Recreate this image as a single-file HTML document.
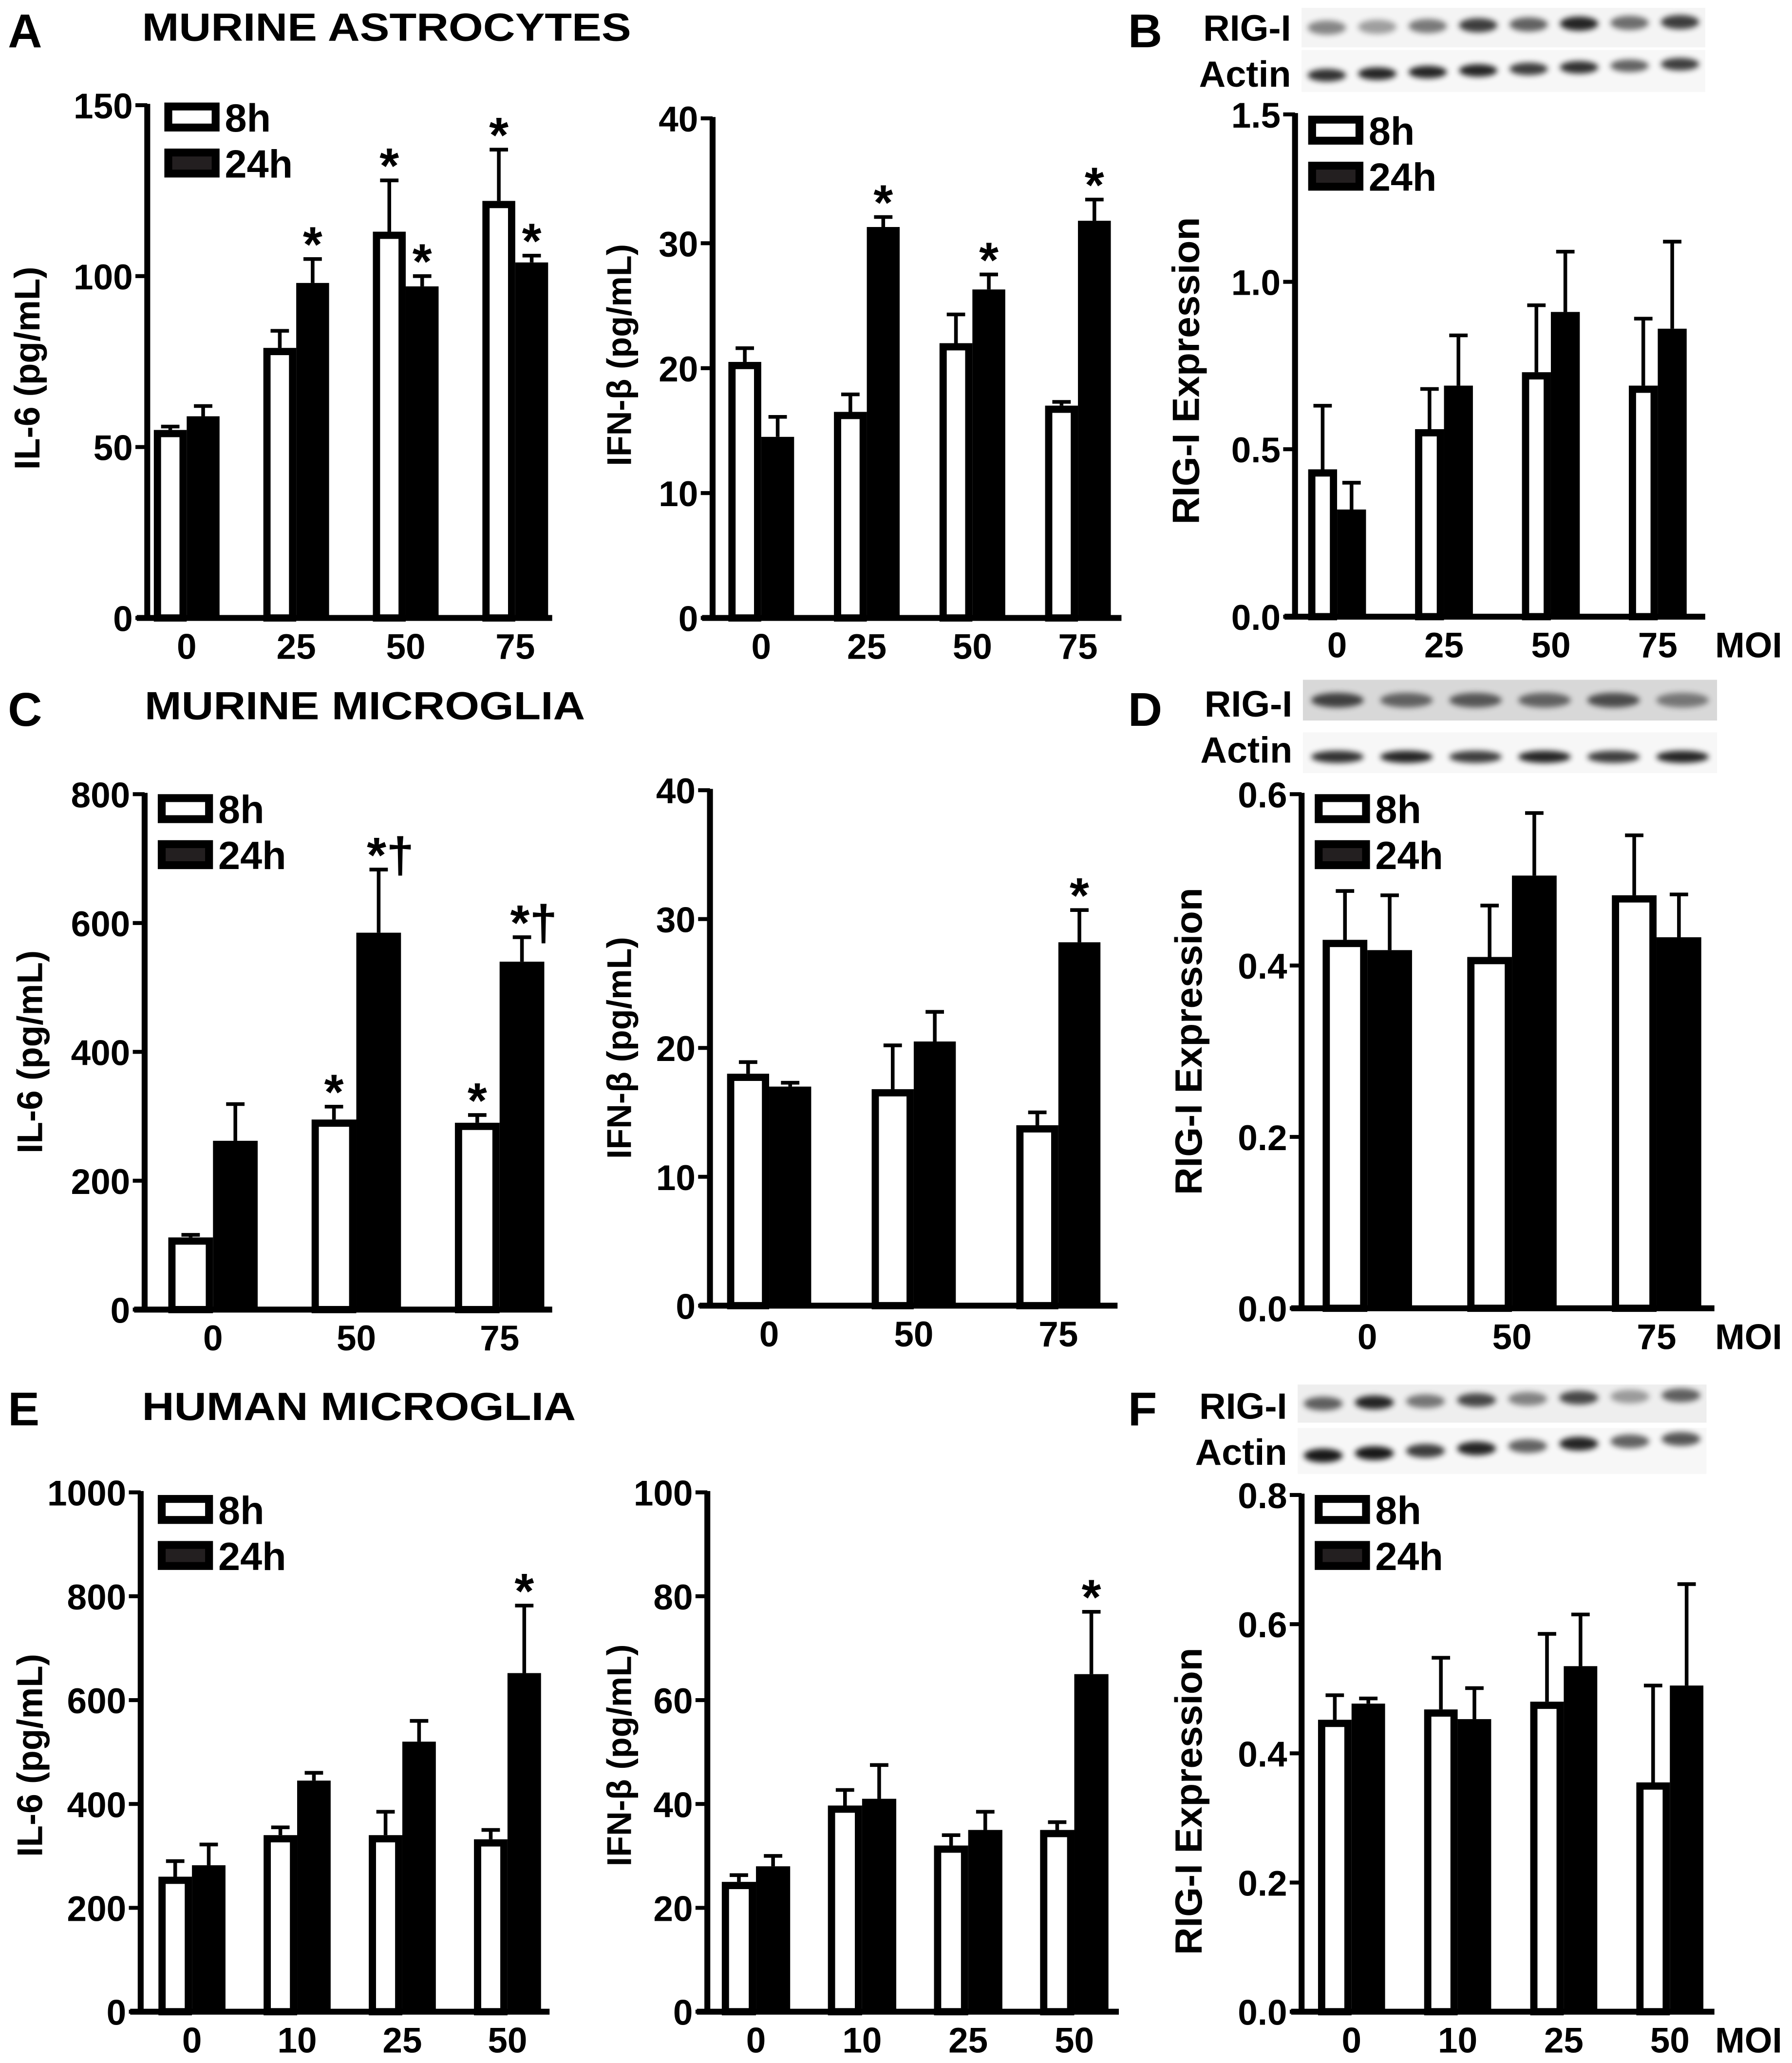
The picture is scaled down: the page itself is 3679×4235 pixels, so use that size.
<!DOCTYPE html>
<html><head><meta charset="utf-8"><style>
html,body{margin:0;padding:0;background:#fff}
svg{display:block}
text{font-family:"Liberation Sans",Arial,sans-serif;font-weight:bold;fill:#000}
</style></head><body>
<svg id="fig" xmlns="http://www.w3.org/2000/svg" width="3679" height="4235" viewBox="0 0 1363 1569">
<defs><filter id="blur" x="-20%" y="-50%" width="140%" height="200%"><feGaussianBlur stdDeviation="2.2"/></filter></defs>
<rect width="1363" height="1569" fill="#fff"/>
<text x="6" y="36" font-size="36">A</text>
<text x="108" y="31" font-size="30" textLength="372" lengthAdjust="spacingAndGlyphs">MURINE ASTROCYTES</text>
<text x="858" y="36" font-size="36">B</text>
<text x="6" y="552" font-size="36">C</text>
<text x="110" y="547" font-size="30" textLength="335" lengthAdjust="spacingAndGlyphs">MURINE MICROGLIA</text>
<text x="858" y="552" font-size="36">D</text>
<text x="6" y="1084" font-size="36">E</text>
<text x="108" y="1080" font-size="30" textLength="330" lengthAdjust="spacingAndGlyphs">HUMAN MICROGLIA</text>
<text x="858" y="1084" font-size="36">F</text>
<g id="charts"></g>
</svg>
<script>
// ---- data ----
const catsA = ["0","25","50","75"];
const aIL6_8h = [55, 79, 113, 122];
const aIL6_8hErr = [1, 5, 15, 15];
const aIL6_24h = [59, 98, 97, 104];
const aIL6_24hErr = [3, 7, 3, 2];
const aIL6_sig8 = ["", "", "*", "*"];
const aIL6_sig24 = ["", "*", "*", "*"];
const aIFN_8h = [20.5, 16.5, 22, 17];
const aIFN_8hErr = [1.1, 1.4, 2.3, 0.3];
const aIFN_24h = [14.5, 31.3, 26.3, 31.8];
const aIFN_24hErr = [1.6, 0.8, 1.2, 1.7];
const aIFN_sig8 = ["", "", "", ""];
const aIFN_sig24 = ["", "*", "*", "*"];
const bRIG_8h = [0.44, 0.56, 0.73, 0.69];
const bRIG_8hErr = [0.19, 0.12, 0.2, 0.2];
const bRIG_24h = [0.32, 0.69, 0.91, 0.86];
const bRIG_24hErr = [0.08, 0.15, 0.18, 0.26];
const catsC = ["0","50","75"];
const cIL6_8h = [112, 295, 290];
const cIL6_8hErr = [4, 20, 12];
const cIL6_24h = [262, 585, 540];
const cIL6_24hErr = [57, 98, 38];
const cIL6_sig8 = ["", "*", "*"];
const cIL6_sig24 = ["", "*†", "*†"];
const cIFN_8h = [18, 16.8, 14];
const cIFN_8hErr = [0.9, 3.4, 1];
const cIFN_24h = [17, 20.5, 28.2];
const cIFN_24hErr = [0.3, 2.3, 2.5];
const cIFN_sig8 = ["", "", ""];
const cIFN_sig24 = ["", "", "*"];
const dRIG_8h = [0.43, 0.41, 0.482];
const dRIG_8hErr = [0.057, 0.06, 0.07];
const dRIG_24h = [0.418, 0.505, 0.433];
const dRIG_24hErr = [0.064, 0.073, 0.05];
const catsE = ["0","10","25","50"];
const eIL6_8h = [260, 340, 340, 332];
const eIL6_8hErr = [30, 15, 45, 18];
const eIL6_24h = [282, 445, 520, 652];
const eIL6_24hErr = [40, 15, 40, 130];
const eIL6_sig24 = ["", "", "", "*"];
const eIFN_8h = [25, 39.7, 32, 35];
const eIFN_8hErr = [1.3, 3, 2, 1.5];
const eIFN_24h = [28, 41, 35, 65];
const eIFN_24hErr = [2, 6.5, 3.5, 12];
const eIFN_sig24 = ["", "", "", "*"];
const fRIG_8h = [0.452, 0.468, 0.48, 0.355];
const fRIG_8hErr = [0.038, 0.08, 0.105, 0.15];
const fRIG_24h = [0.477, 0.453, 0.535, 0.505];
const fRIG_24hErr = [0.008, 0.048, 0.08, 0.157];
const ticksA1 = ["0","50","100","150"], ticksA2 = ["0","10","20","30","40"];
const ticksB = ["0.0","0.5","1.0","1.5"];
const ticksC1 = ["0","200","400","600","800"], ticksC2 = ["0","10","20","30","40"];
const ticksD = ["0.0","0.2","0.4","0.6"];
const ticksE1 = ["0","200","400","600","800","1000"], ticksE2 = ["0","20","40","60","80","100"];
const ticksF = ["0.0","0.2","0.4","0.6","0.8"];

const NS = "http://www.w3.org/2000/svg";
const root = document.getElementById('charts');
function mk(tag, attrs, parent) {
  const e = document.createElementNS(NS, tag);
  for (const k in attrs) e.setAttribute(k, attrs[k]);
  (parent || root).appendChild(e);
  return e;
}

function chart(cfg) {
  const g = mk('g', {});
  
  
  const ymax = parseFloat(cfg.ticks[cfg.ticks.length - 1]);
  const yS = v => cfg.y0 - (v / ymax) * (cfg.y0 - cfg.y1);
  const xS = i => cfg.cx0 + i * cfg.step;
  const fs = 26;
  const bw = cfg.bw, sw = 5.5;
  cfg.cats.forEach((c, i) => {
    const cx = xS(i);
    [[cfg.v8, cfg.e8, cfg.s8, 0], [cfg.v24, cfg.e24, cfg.s24, 1]].forEach(([vals, errs, sigs, k]) => {
      const v = vals[i], top = yS(v);
      const x = k === 0 ? cx - bw : cx;
      const xc = x + bw / 2;
      const et = yS(v + errs[i]);
      const el = mk('line', {x1: xc, x2: xc, y1: top, y2: et, stroke: '#000', 'stroke-width': 2.8}, g);
      
      
      const cap = mk('line', {x1: xc - 7, x2: xc + 7, y1: et, y2: et, stroke: '#000', 'stroke-width': 2.8}, g);
      
      
      let r;
      if (k === 0) {
        r = mk('rect', {x: x + sw / 2, y: top + sw / 2, width: bw - sw, height: cfg.y0 - top - sw / 2, fill: '#fff', stroke: '#000', 'stroke-width': sw}, g);
      } else {
        r = mk('rect', {x: x, y: top, width: bw, height: cfg.y0 - top, fill: '#000'}, g);
      }
      
      
      if (sigs && sigs[i]) {
        const t = mk('text', {x: xc + (sigs[i].length > 1 ? 9 : 0), y: et + 2, 'font-size': 38, 'text-anchor': 'middle'}, g);
        t.textContent = sigs[i];
        
        
      }
    });
    const lt = mk('text', {x: cx, y: cfg.y0 + 31, 'font-size': 27, 'text-anchor': 'middle'}, g);
    lt.textContent = c;
    
    
  });
  const ya = mk('line', {x1: cfg.ax, x2: cfg.ax, y1: cfg.y1 - 1, y2: cfg.y0 + 2, stroke: '#000', 'stroke-width': 4.5}, g);
  
  
  const xa = mk('line', {x1: cfg.ax - 8, x2: cfg.xend, y1: cfg.y0, y2: cfg.y0, stroke: '#000', 'stroke-width': 4.5}, g);
  
  
  cfg.ticks.forEach(t => {
    const y = yS(parseFloat(t));
    const tl = mk('line', {x1: cfg.ax - 9, x2: cfg.ax, y1: y, y2: y, stroke: '#000', 'stroke-width': 3}, g);
    
    
    const tt = mk('text', {x: cfg.ax - 11, y: y + 10, 'font-size': 27, 'text-anchor': 'end'}, g);
    tt.textContent = t;
    
    
  });
  const yl = mk('text', {x: 0, y: 0, 'font-size': cfg.ylfs, 'text-anchor': 'middle', transform: `translate(${cfg.lx},${cfg.ly}) rotate(-90)`}, g);
  yl.textContent = cfg.ylabel;
  
  
  if (cfg.moi) {
    const m = mk('text', {x: 1330, y: cfg.y0 + 31, 'font-size': 27, 'text-anchor': 'middle'}, g);
    m.textContent = 'MOI';
    
    
  }
  if (cfg.leg) {
    const [lx, ly] = cfg.leg;
    const b1 = mk('rect', {x: lx + 3, y: ly + 3, width: 36, height: 16, fill: '#fff', stroke: '#000', 'stroke-width': 6}, g);
    
    
    const t1 = mk('text', {x: lx + 46, y: ly + 22, 'font-size': 30}, g);
    t1.textContent = '8h';
    
    
    const b2 = mk('rect', {x: lx + 3, y: ly + 38, width: 36, height: 16, fill: '#231f20', stroke: '#000', 'stroke-width': 6}, g);
    
    
    const t2 = mk('text', {x: lx + 46, y: ly + 57, 'font-size': 30}, g);
    t2.textContent = '24h';
    
    
  }
}

function blot(name, x, y1, h1, y2, h2, w, lanes, bg1, dark1, dark2, tilt, ly1, ly2) {
  const g = mk('g', {});
  
  
  const r1 = mk('rect', {x: x, y: y1, width: w, height: h1, fill: bg1}, g);
  
  
  const r2 = mk('rect', {x: x, y: y2, width: w, height: h2, fill: '#f7f7f7'}, g);
  
  
  const lw = w / lanes;
  for (let i = 0; i < lanes; i++) {
    const cx = x + lw * (i + 0.5);
    const e1 = mk('ellipse', {cx: cx, cy: y1 + h1 * 0.5 - tilt * i * 0.5, rx: lw * 0.38, ry: h1 * 0.18, fill: '#000', opacity: dark1[i], filter: 'url(#blur)'}, g);
    
    
    const e2 = mk('ellipse', {cx: cx, cy: y2 + h2 * 0.6 - tilt * i, rx: lw * 0.38, ry: h2 * 0.15, fill: '#000', opacity: dark2[i], filter: 'url(#blur)'}, g);
    
    
  }
  const t1 = mk('text', {x: x - 8, y: ly1, 'font-size': 28, 'text-anchor': 'end'}, g);
  t1.textContent = 'RIG-I';
  
  
  const t2 = mk('text', {x: x - 8, y: ly2, 'font-size': 28, 'text-anchor': 'end'}, g);
  t2.textContent = 'Actin';
  
  
}

chart({name:'chart-a-il6', cats:catsA, v8:aIL6_8h, e8:aIL6_8hErr, v24:aIL6_24h, e24:aIL6_24hErr, s8:aIL6_sig8, s24:aIL6_sig24,
  ticks:ticksA1, ax:112, y0:470, y1:80, cx0:142, step:83.3, bw:25, xend:420, lx:30, ly:280, ylfs:27, ylabel:'IL-6 (pg/mL)', leg:[125,78]});
chart({name:'chart-a-ifnb', cats:catsA, v8:aIFN_8h, e8:aIFN_8hErr, v24:aIFN_24h, e24:aIFN_24hErr, s8:aIFN_sig8, s24:aIFN_sig24,
  ticks:ticksA2, ax:542, y0:470, y1:90, cx0:579, step:80.3, bw:25, xend:853, lx:480, ly:270, ylfs:26, ylabel:'IFN-β (pg/mL)'});
chart({name:'chart-b-rig-i', cats:catsA, v8:bRIG_8h, e8:bRIG_8hErr, v24:bRIG_24h, e24:bRIG_24hErr,
  ticks:ticksB, ax:985, y0:469, y1:87, cx0:1017, step:81.3, bw:22, xend:1297, lx:912, ly:282, ylfs:29, ylabel:'RIG-I Expression', moi:true, leg:[995,88]});
chart({name:'chart-c-il6', cats:catsC, v8:cIL6_8h, e8:cIL6_8hErr, v24:cIL6_24h, e24:cIL6_24hErr, s8:cIL6_sig8, s24:cIL6_sig24,
  ticks:ticksC1, ax:110, y0:996, y1:604, cx0:162, step:109, bw:34, xend:420, lx:32, ly:800, ylfs:27, ylabel:'IL-6 (pg/mL)', leg:[120,604]});
chart({name:'chart-c-ifnb', cats:catsC, v8:cIFN_8h, e8:cIFN_8hErr, v24:cIFN_24h, e24:cIFN_24hErr, s8:cIFN_sig8, s24:cIFN_sig24,
  ticks:ticksC2, ax:540, y0:993, y1:601, cx0:585, step:110, bw:32, xend:850, lx:480, ly:797, ylfs:26, ylabel:'IFN-β (pg/mL)'});
chart({name:'chart-d-rig-i', cats:catsC, v8:dRIG_8h, e8:dRIG_8hErr, v24:dRIG_24h, e24:dRIG_24hErr,
  ticks:ticksD, ax:990, y0:995, y1:604, cx0:1040, step:110, bw:34, xend:1304, lx:914, ly:792, ylfs:29, ylabel:'RIG-I Expression', moi:true, leg:[1000,604]});
chart({name:'chart-e-il6', cats:catsE, v8:eIL6_8h, e8:eIL6_8hErr, v24:eIL6_24h, e24:eIL6_24hErr, s24:eIL6_sig24,
  ticks:ticksE1, ax:107, y0:1530, y1:1135, cx0:146, step:80, bw:25.5, xend:418, lx:32, ly:1335, ylfs:27, ylabel:'IL-6 (pg/mL)', leg:[120,1137]});
chart({name:'chart-e-ifnb', cats:catsE, v8:eIFN_8h, e8:eIFN_8hErr, v24:eIFN_24h, e24:eIFN_24hErr, s24:eIFN_sig24,
  ticks:ticksE2, ax:538, y0:1530, y1:1135, cx0:575, step:80.7, bw:26, xend:851, lx:480, ly:1335, ylfs:26, ylabel:'IFN-β (pg/mL)'});
chart({name:'chart-f-rig-i', cats:catsE, v8:fRIG_8h, e8:fRIG_8hErr, v24:fRIG_24h, e24:fRIG_24hErr,
  ticks:ticksF, ax:990, y0:1530, y1:1137, cx0:1028, step:80.7, bw:25.5, xend:1304, lx:914, ly:1370, ylfs:29, ylabel:'RIG-I Expression', moi:true, leg:[1000,1137]});

blot('western-blot-b', 990, 6, 30, 38, 32, 307, 8, '#f4f4f4',
  [0.45,0.35,0.5,0.75,0.6,0.85,0.55,0.75], [0.8,0.85,0.85,0.85,0.75,0.8,0.6,0.75], 1.2, 31, 66);
blot('western-blot-d', 991, 517, 31, 557, 31, 315, 6, '#d8d8d8',
  [0.7,0.55,0.6,0.55,0.65,0.45], [0.8,0.85,0.75,0.85,0.75,0.85], 0, 545, 580);
blot('western-blot-f', 987, 1053, 29, 1086, 35, 311, 8, '#eeeeee',
  [0.6,0.85,0.5,0.7,0.45,0.7,0.35,0.6], [0.9,0.9,0.75,0.85,0.6,0.85,0.6,0.65], 1.8, 1079, 1114);
</script>
</body></html>
